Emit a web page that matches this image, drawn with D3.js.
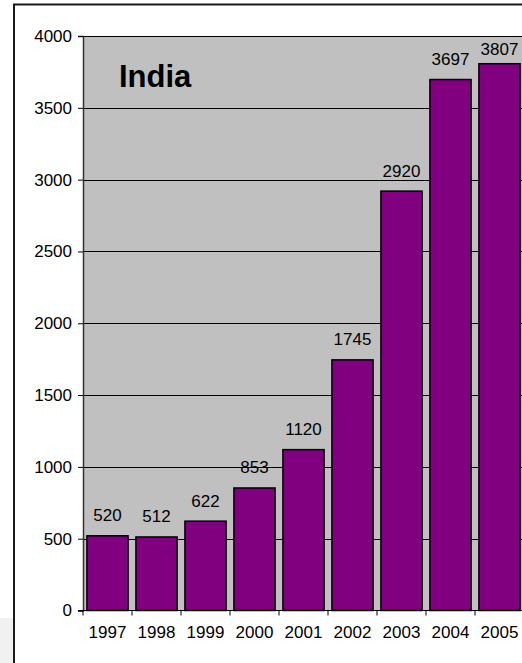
<!DOCTYPE html>
<html>
<head>
<meta charset="utf-8">
<script src="https://cdn.jsdelivr.net/npm/d3@7"></script>
<style>
  html, body { margin: 0; padding: 0; background: #fff; }
  svg { display: block; }
  text { font-family: "Liberation Sans", Arial, sans-serif; fill: #000; }
</style>
</head>
<body>
<svg id="chart" width="522" height="663"></svg>
<script>
const years = ["1997","1998","1999","2000","2001","2002","2003","2004","2005"];
const values = [520, 512, 622, 853, 1120, 1745, 2920, 3697, 3807];
const yTicks = [0, 500, 1000, 1500, 2000, 2500, 3000, 3500, 4000];
const title = "India";

const svg = d3.select("#chart");
const W = 522, H = 663;
const plot = { left: 83, right: 524, top: 36, bottom: 610.5 };
const FS = 17;
const FONT = '"Liberation Sans", Arial, sans-serif';

// page artifact at bottom-left
svg.append("rect").attr("x", 0).attr("y", 618).attr("width", 13).attr("height", H - 618).attr("fill", "#f1f1f1");

// outer chart frame (extends beyond the viewport)
svg.append("rect")
  .attr("x", 14).attr("y", 4.5)
  .attr("width", 600).attr("height", 700)
  .attr("fill", "#fff").attr("stroke", "#1a1a1a").attr("stroke-width", 2);

const y = d3.scaleLinear().domain([0, 4000]).range([plot.bottom, plot.top]);
const x = d3.scaleBand().domain(years).range([plot.left, plot.right]).paddingInner(0.16).paddingOuter(0.08);
const xb = d3.scaleLinear().domain([0, years.length]).range([plot.left, plot.right]);

// plot area
svg.append("rect")
  .attr("x", plot.left).attr("y", plot.top)
  .attr("width", plot.right - plot.left).attr("height", plot.bottom - plot.top)
  .attr("fill", "#c0c0c0");

// gridlines
svg.append("g").selectAll("line").data(yTicks.filter(d => d > 0)).join("line")
  .attr("x1", plot.left).attr("x2", plot.right)
  .attr("y1", d => Math.round(y(d)) + 0.5).attr("y2", d => Math.round(y(d)) + 0.5)
  .attr("stroke", "#000").attr("stroke-width", 1);

// bars
svg.append("g").selectAll("rect").data(values).join("rect")
  .attr("x", (d, i) => x(years[i]))
  .attr("y", d => y(d))
  .attr("width", x.bandwidth())
  .attr("height", d => y(0) - y(d))
  .attr("fill", "#800080")
  .attr("stroke", "#000").attr("stroke-width", 1.5);

// value labels
svg.append("g").selectAll("text").data(values).join("text")
  .attr("x", (d, i) => x(years[i]) + x.bandwidth() / 2)
  .attr("y", d => Math.max(y(d) - 14.5, 55))
  .attr("text-anchor", "middle")
  .attr("font-size", FS)
  .text(d => d);

// y axis
const yAxis = svg.append("g")
  .attr("transform", `translate(${plot.left},0)`)
  .call(d3.axisLeft(y).tickValues(yTicks).tickSize(5).tickPadding(6).tickFormat(d3.format("d")));
yAxis.select(".domain").attr("stroke", "#333").attr("stroke-width", 1.5);
yAxis.selectAll(".tick line").attr("stroke", "#000");
yAxis.selectAll(".tick text").attr("font-size", FS).attr("font-family", FONT).attr("fill", "#000");

// x axis baseline and boundary ticks
svg.append("line")
  .attr("x1", plot.left - 5).attr("x2", plot.right)
  .attr("y1", plot.bottom).attr("y2", plot.bottom)
  .attr("stroke", "#000").attr("stroke-width", 1.2);
svg.append("g").selectAll("line").data(d3.range(years.length + 1)).join("line")
  .attr("x1", d => xb(d)).attr("x2", d => xb(d))
  .attr("y1", plot.bottom).attr("y2", plot.bottom + 5)
  .attr("stroke", "#000").attr("stroke-width", 1);

// x labels
const xAxis = svg.append("g")
  .attr("transform", `translate(0,${plot.bottom})`)
  .call(d3.axisBottom(x).tickSize(0).tickPadding(15));
xAxis.select(".domain").remove();
xAxis.selectAll(".tick text").attr("font-size", FS).attr("font-family", FONT).attr("fill", "#000");

// title
svg.append("text")
  .attr("x", 119).attr("y", 86.5)
  .attr("font-size", 31).attr("font-weight", "bold")
  .text(title);
</script>
</body>
</html>
